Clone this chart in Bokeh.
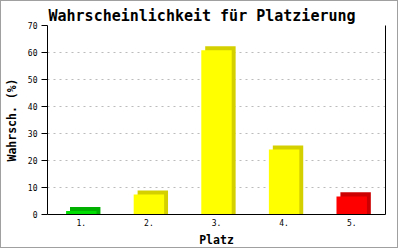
from bokeh.plotting import figure
from bokeh.models import ColumnDataSource, LinearAxis, Range1d, FactorRange
from bokeh.transform import dodge
from bokeh.embed import file_html
from bokeh.resources import INLINE

# Data
places = ["1.", "2.", "3.", "4.", "5."]
probabilities = [1.3, 7.4, 60.8, 24.1, 6.7]
front_colors = ["#00DD00", "#FFFF00", "#FFFF00", "#FFFF00", "#FF0000"]
side_colors = ["#00B000", "#D4D000", "#D4D000", "#D4D000", "#CC0000"]
y_ticks = [0, 10, 20, 30, 40, 50, 60, 70]

depth_y = 1.5  # 3D depth in data units (approx 4px)
src = ColumnDataSource(dict(
    x=places,
    top=probabilities,
    shadow_top=[v + depth_y for v in probabilities],
    front=front_colors,
    side=side_colors,
))

p = figure(width=398, height=248, x_range=FactorRange(*places, range_padding=0),
           y_range=Range1d(0, 70), output_backend="svg", toolbar_location=None,
           min_border_left=42, min_border_right=14, min_border_top=24, min_border_bottom=30)
p.styles = {"border": "1px solid #A0A0A0"}
p.background_fill_color = "white"
p.border_fill_color = "white"
p.outline_line_color = None

# shadow (3D side/top)
p.vbar(x=dodge("x", 0.058, range=p.x_range), top="shadow_top", bottom=0, width=0.45,
       source=src, fill_color="side", line_color=None)
# front face
p.vbar(x="x", top="top", bottom=0, width=0.45, source=src,
       fill_color="front", line_color=None)

# Title
p.title.text = "Wahrscheinlichkeit für Platzierung"
p.title.text_font = "DejaVu Sans Mono"
p.title.text_font_size = "15px"
p.title.text_font_style = "bold"
p.title.text_color = "black"
p.title.align = "left"
p.title.offset = 1
p.title.standoff = 2

# Grid
p.xgrid.grid_line_color = None
p.ygrid.grid_line_color = "#BBBBBB"
p.ygrid.grid_line_dash = "2 4"
p.ygrid.ticker = y_ticks

# Axes
p.yaxis.ticker = y_ticks
p.yaxis.axis_label = "Wahrsch. (%)"
p.xaxis.axis_label = "Platz"
for ax in (p.xaxis[0], p.yaxis[0]):
    ax.axis_line_color = "black"
    ax.axis_label_text_font = "DejaVu Sans Mono"
    ax.axis_label_text_font_style = "bold"
    ax.axis_label_text_font_size = "11.5px"
    ax.axis_label_text_color = "black"
    ax.major_label_text_font = "DejaVu Sans Mono"
    ax.major_label_text_font_size = "8px"
    ax.major_label_text_color = "black"
    ax.minor_tick_line_color = None
p.yaxis.major_tick_out = 6
p.yaxis.major_tick_in = 0
p.yaxis.major_tick_line_color = "black"
p.yaxis.major_label_standoff = 4
p.yaxis.axis_label_standoff = 6
p.xaxis.major_tick_line_color = None
p.xaxis.major_tick_out = 0
p.xaxis.major_label_standoff = 4
p.xaxis.axis_label_standoff = 4

right = LinearAxis(ticker=[], major_label_text_font_size="0px", axis_line_color="black",
                   major_tick_line_color=None, minor_tick_line_color=None)
p.add_layout(right, "right")

open("out.html", "w").write(file_html(p, INLINE))
